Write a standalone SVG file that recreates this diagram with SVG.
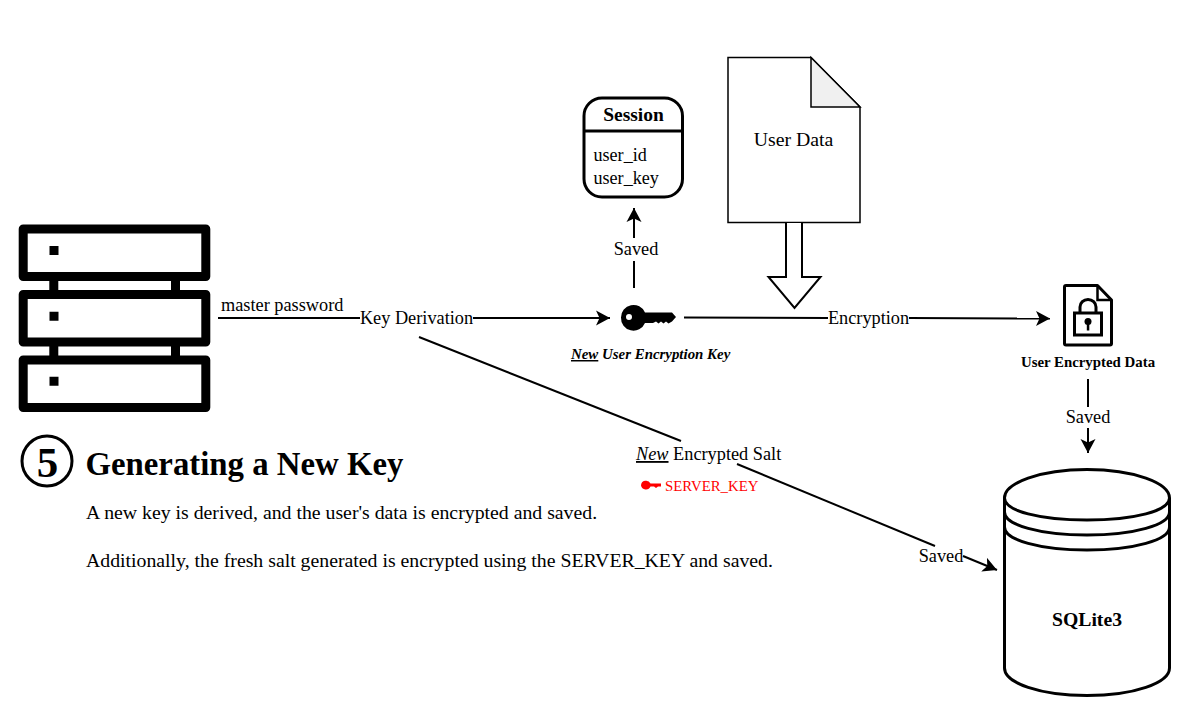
<svg xmlns="http://www.w3.org/2000/svg" width="1196" height="717" viewBox="0 0 1196 717">
<style>
text{font-family:"Liberation Serif","Times New Roman",serif;fill:#000;font-size:18.300px}
.m{text-anchor:middle}
.b{font-weight:bold}
.ln{fill:none;stroke:#000;stroke-width:2}
.srv{fill:none;stroke:#000;stroke-width:9;stroke-linejoin:round}
</style>
<defs>
<marker id="arr" markerUnits="userSpaceOnUse" markerWidth="16" markerHeight="16" refX="14" refY="7.5" orient="auto" viewBox="0 0 16 15"><path d="M0 0L14 7.5L0 15L3.5 7.5Z" fill="#000"/></marker>
</defs>
<g id="server">
<rect class="srv" x="23.2" y="229" width="182.6" height="47.600"/>
<rect class="srv" x="23.2" y="294.500" width="182.6" height="47.600"/>
<rect class="srv" x="23.2" y="360" width="182.6" height="47.600"/>
<path d="M49.3 280h9v11h-9zM171 280h9v11h-9zM49.3 345h9v11h-9zM171 345h9v11h-9zM49.5 246h9v9h-9zM49.5 311.7h9v9h-9zM49.5 376.7h9v9h-9z"/>
</g>
<g id="connectors">
<path class="ln" d="M218 318H360"/>
<path class="ln" d="M473 318H610" marker-end="url(#arr)"/>
<path class="ln" d="M684 317.500L828 318"/>
<path class="ln" d="M909 318L1050 318.500" marker-end="url(#arr)"/>
<path class="ln" d="M634 288V261"/>
<path class="ln" d="M634 238V208" marker-end="url(#arr)"/>
<path class="ln" d="M1088 379V407"/>
<path class="ln" d="M1088 428V453" marker-end="url(#arr)"/>
<path class="ln" d="M419 337L681 441"/>
<path class="ln" d="M737 464L935 546"/>
<path class="ln" d="M963 556L997 570" marker-end="url(#arr)"/>
</g>
<g id="session">
<rect x="584" y="98" width="98.500" height="99" rx="18" fill="#fff" stroke="#000" stroke-width="3"/>
<path d="M584 131H682.500" fill="none" stroke="#000" stroke-width="3"/>
<text class="m b" x="633.500" y="121" style="font-size:19.500px">Session</text>
<text x="593.500" y="161" style="font-size:18.100px">user_id</text>
<text x="593.500" y="184" style="font-size:18.100px">user_key</text>
</g>
<g id="user-data">
<path d="M728 57.500H811L860 107V222.500H728Z" fill="#fff" stroke="#000" stroke-width="1.500"/>
<path d="M811 57.500L860 107H811Z" fill="#f0f0f0" stroke="#000" stroke-width="1.500"/>
<text class="m" x="793.500" y="146" style="font-size:19.800px">User Data</text>
<path d="M786 223V277H768.500L794.500 308L820.500 277H802V223" fill="#fff" stroke="#000" stroke-width="2"/>
</g>
<g id="key">
<path fill-rule="evenodd" d="M621 317.500a12.500 12.500 0 0 1 24-5H672L676 317L672 321.500L668.500 323.500L666 321.500L663.500 323.500L661 321.500L658.500 323.500L656 321.500L653 323H645a12.500 12.500 0 0 1 -24 -5.500ZM626 317a3 3 0 1 0 6 0a3 3 0 1 0 -6 0Z"/>
<text x="571" y="359" class="b" style="font-size:14.900px;font-style:italic"><tspan text-decoration="underline">New</tspan> User Encryption Key</text>
</g>
<g id="encrypted-data">
<path d="M1066 285.500H1097.500L1111.500 300V343.500Q1111.500 345 1110 345H1066Q1064.500 345 1064.500 343.500V287Q1064.500 285.500 1066 285.500Z" fill="#fff" stroke="#000" stroke-width="3" stroke-linejoin="round"/>
<path d="M1097.500 285.500V300H1111.500" fill="none" stroke="#000" stroke-width="2.500"/>
<rect x="1074.500" y="313" width="27" height="22" fill="none" stroke="#000" stroke-width="3"/>
<path d="M1080 313V307a8 7.500 0 0 1 16 0V313" fill="none" stroke="#000" stroke-width="3"/>
<circle cx="1088" cy="321.500" r="3.500"/>
<path d="M1086.800 322h2.500v8.500h-2.500z"/>
<text class="m b" x="1088" y="367" style="font-size:14.850px">User Encrypted Data</text>
</g>
<g id="sqlite">
<path d="M1004.500 498C1004.500 483 1040 469.500 1087 469.500S1169.500 483 1169.500 498V668C1169.500 683 1134 695.500 1087 695.500S1004.500 683 1004.500 668Z" fill="#fff" stroke="#000" stroke-width="3"/>
<path d="M1004.500 498C1004.500 511 1040 520 1087 520S1169.500 511 1169.500 498M1004.500 512C1004.500 525 1040 535 1087 535S1169.500 525 1169.500 512M1004.500 527C1004.500 540 1040 550 1087 550S1169.500 540 1169.500 527" fill="none" stroke="#000" stroke-width="3"/>
<text class="m b" x="1087" y="626" style="font-size:19.700px">SQLite3</text>
</g>
<g id="labels">
<text x="221" y="311">master password</text>
<text class="m" x="416.500" y="323.500">Key Derivation</text>
<text class="m" x="868.500" y="323.500">Encryption</text>
<text class="m" x="636" y="255">Saved</text>
<text class="m" x="1088" y="423">Saved</text>
<text class="m" x="941" y="562">Saved</text>
<text x="636" y="460"><tspan text-decoration="underline" font-style="italic">New</tspan> Encrypted Salt</text>
<path d="M641 485.500a5 5 0 0 1 9.500 -2H661V486.500H658L656 488L654 486.500H650.500a5 5 0 0 1 -9.500 -1Z" fill="#f00"/>
<text x="665" y="491" style="font-size:14.800px;fill:#f00">SERVER_KEY</text>
</g>
<g id="step">
<circle cx="47" cy="461" r="25" fill="#fff" stroke="#000" stroke-width="3"/>
<text class="m b" x="47.500" y="477" style="font-size:43px">5</text>
<text class="b" x="85.500" y="475" style="font-size:32.800px">Generating a New Key</text>
<text x="86" y="519" style="font-size:19.800px">A new key is derived, and the user's data is encrypted and saved.</text>
<text x="86" y="567" style="font-size:19.800px">Additionally, the fresh salt generated is encrypted using the SERVER_KEY and saved.</text>
</g>
</svg>
